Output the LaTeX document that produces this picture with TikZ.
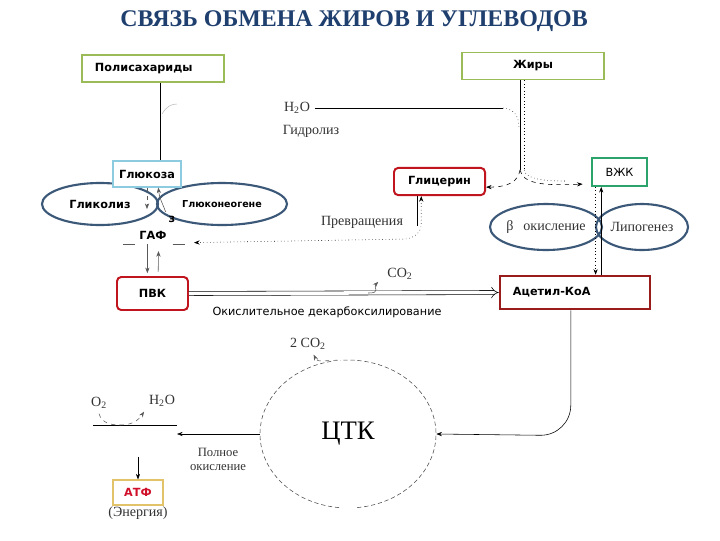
\documentclass[tikz,border=0pt]{standalone}
\usepackage{fontspec}
\setmainfont{Liberation Serif}
\setsansfont{DejaVu Sans}
\usetikzlibrary{arrows.meta,shapes.geometric,positioning}
\definecolor{titleblue}{HTML}{1F3F6E}
\definecolor{boxgreen}{HTML}{9BBB59}
\definecolor{vzkgreen}{HTML}{2CA36B}
\definecolor{glcblue}{HTML}{8CCBE0}
\definecolor{boxred}{HTML}{C0141E}
\definecolor{darkred}{HTML}{9A1B1B}
\definecolor{ovalblue}{HTML}{3B5878}
\definecolor{atfgold}{HTML}{E3C36A}
\definecolor{atfred}{HTML}{D0102A}
\begin{document}
\begin{tikzpicture}[x=0.025cm,y=-0.025cm,
	lbl/.style={font=\sffamily\fontsize{8}{9.5}\selectfont},
	bl/.style={font=\sffamily\bfseries\fontsize{8}{9.5}\selectfont},
	srf/.style={font=\fontsize{10}{11}\selectfont,text=black!80},
	greenbox/.style={draw=boxgreen,line width=1.2pt,minimum height=0.68cm,inner sep=0pt},
	redbox/.style={draw=boxred,line width=1.4pt,rounded corners=3pt,minimum height=0.68cm,inner sep=0pt},
	oval/.style={ellipse,draw=ovalblue,line width=1.5pt,inner sep=0pt},
	tip/.style={-{Stealth[length=4pt,width=3pt]}},
	tips/.style={{Stealth[length=4pt,width=3pt]}-{Stealth[length=4pt,width=3pt]}},
	faint/.style={black!65,thin}]
	\useasboundingbox (0,0) rectangle (720,540);
	\node[font=\bfseries\fontsize{17}{19}\selectfont,text=titleblue] (title) at (354,21) {СВЯЗЬ ОБМЕНА ЖИРОВ И УГЛЕВОДОВ};
	\node[greenbox,bl,minimum width=3.55cm,text width=2.9cm,align=left] (poly) at (153,68.5) {Полисахариды};
	\node[greenbox,bl,minimum width=3.55cm] (fats) at (533,66) {Жиры};
	\node[oval,bl,minimum width=2.9cm,minimum height=1.05cm] (glycolysis) at (100,204) {Гликолиз};
	\node[oval,minimum width=3.25cm,minimum height=1.05cm,font=\sffamily\bfseries\fontsize{6.8}{8}\selectfont] (gng) at (222,204) {Глюконеогене};
	\node[bl] (gngz) at (172,219) {з};
	\node[draw=glcblue,fill=white,line width=0.8pt,bl,minimum width=1.7cm,minimum height=0.65cm,inner sep=0pt] (glc) at (147,174) {Глюкоза};
	\node[bl] (gaf) at (153,235) {ГАФ};
	\node[redbox,bl,minimum width=1.775cm,minimum height=0.825cm] (pvk) at (152.5,293.5) {ПВК};
	\node[redbox,bl,minimum width=2.275cm] (glyc) at (439.5,181.5) {Глицерин};
	\node[draw=vzkgreen,line width=1.3pt,lbl,minimum width=1.375cm,minimum height=0.7cm,inner sep=0pt] (fa) at (619.5,172) {ВЖК};
	\node[oval,srf,minimum width=2.3cm,minimum height=1.15cm] (betaox) at (546,227) {β\hspace{7pt}окисление};
	\node[oval,srf,minimum width=2.3cm,minimum height=1.15cm] (lipo) at (642,227) {Липогенез};
	\node[draw=darkred,line width=1.8pt,bl,minimum width=3.75cm,minimum height=0.825cm,text width=3.1cm,align=left,inner sep=0pt] (acoa) at (575,292.5) {Ацетил-КоА};
	\node[lbl] (decarb) at (327,312) {Окислительное декарбоксилирование};
	\node[srf] (co2) at (400,274) {CO\textsubscript{2}};
	\node[srf] (h2o) at (297,108) {H\textsubscript{2}O};
	\node[srf] (hydro) at (311,131) {Гидролиз};
	\node[srf] (conv) at (362,222) {Превращения};
	\node[ellipse,minimum width=4.4cm,minimum height=3.7cm,inner sep=0pt,font=\fontsize{19}{21}\selectfont] (tca) at (348,434) {ЦТК};
	\node[srf] (co2b) at (308,344) {2 CO\textsubscript{2}};
	\node[srf,align=center,font=\fontsize{9}{10}\selectfont] (fullox) at (218,459) {Полное\\окисление};
	\node[srf] (o2) at (99,403) {O\textsubscript{2}};
	\node[srf] (h2ob) at (162,401) {H\textsubscript{2}O};
	\node[draw=atfgold,line width=0.8pt,bl,text=atfred,minimum width=1.25cm,minimum height=0.625cm,inner sep=0pt] (atf) at (138,492.5) {АТФ};
	\node[srf] (energy) at (138,513) {(Энергия)};
	\coordinate (split) at (520,170);
	\coordinate (hk) at (503,108);
	\coordinate (co2k) at (368,293);
	\coordinate (respL) at (93,425);
	\coordinate (respR) at (177,425);
	\coordinate (respM) at (120,425);
	\coordinate (faL) at ([xshift=-13pt]fa.south);
	\coordinate (faR) at ([xshift=-17pt]fa.south);
	\draw ([xshift=5pt]poly.south) -- ([xshift=5pt]poly.south |- glc.north);
	\draw[gray!50] (162,114) .. controls (166,107) and (171,104) .. (177,104);
	\draw[faint,dashed,tip,shorten >=12pt] (glc.south) -- (glc.south |- gaf.north);
	\draw[faint,tip] ([shift={(9pt,10pt)}]gaf.north) .. controls +(-3pt,8pt) and +(1pt,-8pt) .. ([xshift=8pt]glc.south);
	\draw[faint] ([xshift=-13pt]gaf.south) -- ++(-12,0);
	\draw[faint] ([xshift=14pt]gaf.south) -- ++(12,0);
	\draw[faint,tip,shorten >=2pt] ([xshift=-4pt]gaf.south) -- ([xshift=-4pt]gaf.south |- pvk.north);
	\draw[faint,tip,shorten >=5pt,shorten <=3pt] ([xshift=4pt]pvk.north) -- ([xshift=4pt]gaf.south);
	\draw ([xshift=-9pt]fats.south) -- ([xshift=-9pt]fats.south |- split);
	\draw[dotted] ([xshift=-6pt]fats.south) -- ([xshift=-6pt]fats.south |- split);
	\draw[dashed,tip] (split) .. controls (518,182) and (508,187) .. ([yshift=-4pt]glyc.east);
	\draw[dotted] ([xshift=3pt]split) .. controls (525,178) and (540,181) .. (565,181);
	\draw[dashed,tip] (split) .. controls (523,183) and (540,186) .. ([shift={(-6pt,2pt)}]fa.south west);
	\draw (h2o.east) -- (h2o.east -| hk);
	\draw[dotted] (hk) .. controls (514,109) and (519,116) .. (519,128);
	\draw ([xshift=-16pt]glyc.south) -- ++(0,30);
	\draw[dotted,tips,shorten >=16pt] ([xshift=-13pt]glyc.south) -- ++(0,28) to[out=-90,in=0] ++(-18,15) -- (gaf.east |- 0,243);
	\draw[tip] (faL |- acoa.north) -- (faL);
	\draw[dotted,tip] (faR) -- (faR |- acoa.north);
	\draw[double,double distance=2.5pt,-{Implies},thin] (pvk.east) -- (acoa.west);
	\draw[faint,tip] (co2k) .. controls +(10pt,0) and +(-4pt,-4pt) .. ([shift={(-3pt,2pt)}]co2.south west);
	\draw[tip] ([xshift=-3pt]acoa.south) -- ++(0,95) to[out=-90,in=0] ++(-30,30) -- (tca.east);
	\draw[black!70,densely dashed,thin] plot[domain=101:265,samples=60] ({348+88*cos(\x)},{434-74*sin(\x)});
	\draw[black!70,densely dashed,thin] plot[domain=276:455,samples=60] ({348+88*cos(\x)},{434-74*sin(\x)});
	\draw[faint,dashed,tip] (tca.98) .. controls +(-10pt,0) and +(3pt,-6pt) .. ([xshift=4pt]co2b.south);
	\draw[tip] (tca.west) -- (tca.west -| respR);
	\draw (respL) -- (respR);
	\draw[faint,dashed] (o2.south) .. controls +(2pt,-7pt) and +(-6pt,0) .. (respM);
	\draw[faint,dashed,tip] (respM) .. controls +(9pt,0) and +(-4pt,-6pt) .. (h2ob.south west);
	\draw[tip] ([yshift=16pt]atf.north) -- (atf.north);
\end{tikzpicture}
\end{document}
